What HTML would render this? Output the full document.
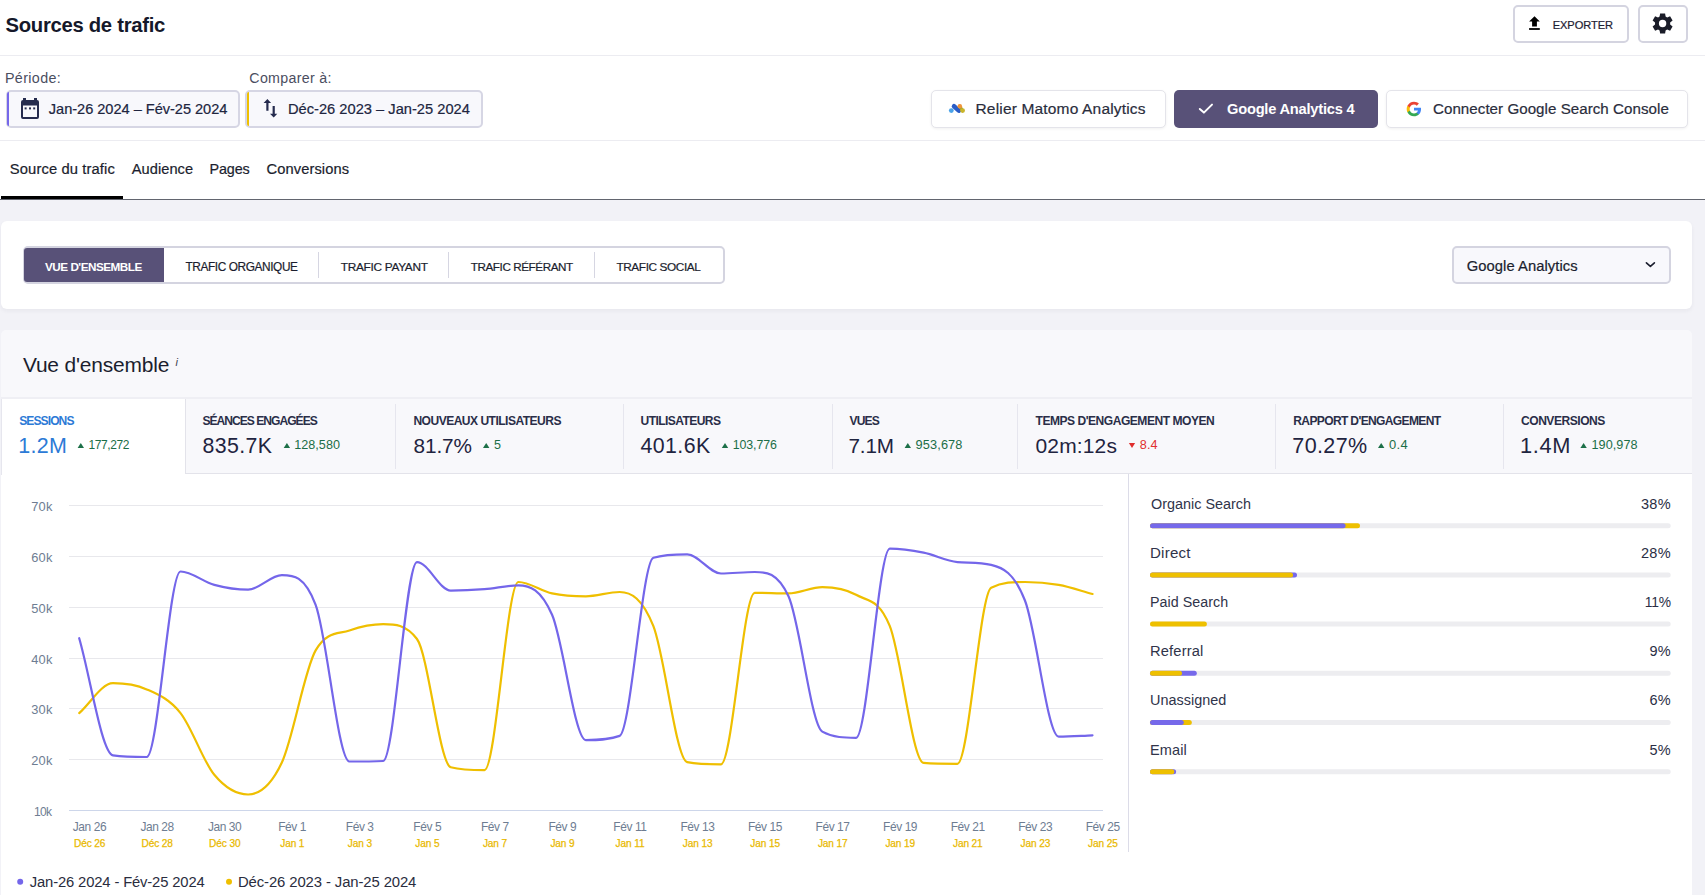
<!DOCTYPE html>
<html><head><meta charset="utf-8"><style>
html,body{margin:0;padding:0;width:1705px;height:895px;overflow:hidden;background:#f2f2f7;font-family:"Liberation Sans", sans-serif;}
.t{position:absolute;white-space:nowrap;line-height:1;}
.xl{width:80px;text-align:center;}
.b{position:absolute;box-sizing:border-box;}
</style></head><body>
<div class="b" style="left:0;top:0;width:1705px;height:199px;background:#fff"></div>
<div class="b" style="left:0;top:55px;width:1705px;height:1px;background:#ececf1"></div>
<div class="b" style="left:0;top:140px;width:1705px;height:1px;background:#ececf1"></div>
<div class="b" style="left:0;top:199px;width:1705px;height:1px;background:#62656f"></div>
<div class="b" style="left:1px;top:196px;width:122px;height:3px;background:#000"></div>

<div class="b" style="left:1513px;top:5px;width:116px;height:38px;border:2px solid #d4d4e0;border-radius:5px;background:#fff"></div>
<div class="b" style="left:1638px;top:5px;width:50px;height:38px;border:2px solid #d4d4e0;border-radius:5px;background:#fff"></div>

<div class="b" style="left:5.5px;top:90px;width:234px;height:37.5px;border:2px solid #d6d6e4;border-radius:5px;background:#f8f8fc"></div>
<div class="b" style="left:7px;top:92px;width:2px;height:34px;background:#7668ea;border-radius:2px 0 0 2px"></div>
<div class="b" style="left:245px;top:90px;width:237.5px;height:37.5px;border:2px solid #d6d6e4;border-radius:5px;background:#f8f8fc"></div>
<div class="b" style="left:247px;top:92px;width:2px;height:34px;background:#eec000;border-radius:2px 0 0 2px"></div>

<div class="b" style="left:930.5px;top:90px;width:235px;height:37.5px;border:1px solid #e4e4ea;border-radius:5px;background:#fff;box-shadow:0 1px 3px rgba(0,0,0,0.06)"></div>
<div class="b" style="left:1174px;top:90px;width:203.5px;height:37.5px;border-radius:5px;background:#585178"></div>
<div class="b" style="left:1386px;top:90px;width:301.5px;height:37.5px;border:1px solid #e4e4ea;border-radius:5px;background:#fff;box-shadow:0 1px 3px rgba(0,0,0,0.06)"></div>

<div class="b" style="left:1px;top:221px;width:1691px;height:88px;border-radius:6px;background:#fff;box-shadow:0 2px 4px rgba(30,30,60,0.05)"></div>
<div class="b" style="left:22.5px;top:246px;width:702px;height:37.5px;border:2px solid #d4d4e0;border-radius:5px;background:#fff"></div>
<div class="b" style="left:24px;top:248px;width:140px;height:34px;border-radius:3px 0 0 3px;background:#585178"></div>
<div class="b" style="left:318px;top:252px;width:1px;height:26px;background:#d6d6e2"></div>
<div class="b" style="left:448px;top:252px;width:1px;height:26px;background:#d6d6e2"></div>
<div class="b" style="left:594px;top:252px;width:1px;height:26px;background:#d6d6e2"></div>
<div class="b" style="left:1451.5px;top:246px;width:219px;height:37.5px;border:2px solid #d4d4e0;border-radius:5px;background:#f8f8fc"></div>

<div class="b" style="left:1px;top:330px;width:1691px;height:600px;border-radius:5px;background:#f8f8fb"></div>
<div class="b" style="left:1px;top:397px;width:1691px;height:2px;background:#efeff4"></div>
<div class="b" style="left:1px;top:473px;width:1691px;height:1px;background:#e3e3ea"></div>
<div class="b" style="left:1px;top:474px;width:1691px;height:430px;background:#fff"></div>
<div class="b" style="left:1px;top:399px;width:184px;height:76px;background:#fff;border-left:1px solid #e6e6ee"></div>
<div class="b" style="left:185px;top:399px;width:1px;height:75px;background:#e3e3ea"></div>
<div class="b" style="left:395px;top:404px;width:1px;height:65px;background:#e6e6ee"></div><div class="b" style="left:623px;top:404px;width:1px;height:65px;background:#e6e6ee"></div><div class="b" style="left:832px;top:404px;width:1px;height:65px;background:#e6e6ee"></div><div class="b" style="left:1017px;top:404px;width:1px;height:65px;background:#e6e6ee"></div><div class="b" style="left:1275px;top:404px;width:1px;height:65px;background:#e6e6ee"></div><div class="b" style="left:1503px;top:404px;width:1px;height:65px;background:#e6e6ee"></div>
<div class="b" style="left:1128px;top:474px;width:1px;height:378px;background:#dcdce8"></div>
<svg class="b" style="left:0;top:0" width="1705" height="895" viewBox="0 0 1705 895">
<line x1="69" y1="505.5" x2="1103" y2="505.5" stroke="#e8e8ec" stroke-width="1.2"/><line x1="69" y1="556.5" x2="1103" y2="556.5" stroke="#e8e8ec" stroke-width="1.2"/><line x1="69" y1="607.5" x2="1103" y2="607.5" stroke="#e8e8ec" stroke-width="1.2"/><line x1="69" y1="658.5" x2="1103" y2="658.5" stroke="#e8e8ec" stroke-width="1.2"/><line x1="69" y1="708.5" x2="1103" y2="708.5" stroke="#e8e8ec" stroke-width="1.2"/><line x1="69" y1="759.5" x2="1103" y2="759.5" stroke="#e8e8ec" stroke-width="1.2"/><line x1="69" y1="810.5" x2="1103" y2="810.5" stroke="#cdd6ea" stroke-width="1.2"/>
<path d="M79.20,713.10C90.46,703.13 101.72,683.20 112.98,683.20C124.24,683.20 135.49,684.42 146.75,689.40C158.01,694.38 169.27,698.87 180.53,713.10C191.79,727.33 203.05,761.23 214.31,774.80C225.57,788.37 236.82,794.50 248.08,794.50C259.34,794.50 270.60,786.52 281.86,762.50C293.12,738.48 304.38,669.92 315.64,650.40C326.90,630.88 338.15,634.37 349.41,630.50C360.67,626.63 371.93,624.20 383.19,624.20C394.45,624.20 405.71,624.20 416.97,639.00C428.23,653.80 439.48,764.30 450.74,767.20C462.00,770.10 473.26,770.10 484.52,770.10C495.78,770.10 507.04,582.00 518.30,582.00C529.56,582.00 540.81,591.02 552.07,593.40C563.33,595.78 574.59,596.30 585.85,596.30C597.11,596.30 608.37,592.00 619.63,592.00C630.89,592.00 642.14,597.85 653.40,626.20C664.66,654.55 675.92,759.90 687.18,762.10C698.44,764.30 709.70,764.30 720.96,764.30C732.22,764.30 743.47,592.80 754.73,592.80C765.99,592.80 777.25,593.40 788.51,593.40C799.77,593.40 811.03,587.10 822.29,587.10C833.55,587.10 844.80,588.28 856.06,594.80C867.32,601.32 878.58,598.18 889.84,626.20C901.10,654.22 912.36,762.00 923.62,762.90C934.88,763.80 946.13,763.80 957.39,763.80C968.65,763.80 979.91,593.40 991.17,587.70C1002.43,582.00 1013.69,582.00 1024.95,582.00C1036.21,582.00 1047.46,582.90 1058.72,584.90C1069.98,586.90 1081.24,590.97 1092.50,594.00" fill="none" stroke="#efbf00" stroke-width="2.2" stroke-linejoin="round" stroke-linecap="round"/>
<path d="M79.20,638.20C90.46,677.23 101.72,753.60 112.98,755.30C124.24,757.00 135.49,757.00 146.75,757.00C158.01,757.00 169.27,571.50 180.53,571.50C191.79,571.50 203.05,581.87 214.31,584.90C225.57,587.93 236.82,589.70 248.08,589.70C259.34,589.70 270.60,575.20 281.86,575.20C293.12,575.20 304.38,575.20 315.64,604.80C326.90,634.40 338.15,761.50 349.41,761.50C360.67,761.50 371.93,761.50 383.19,761.00C394.45,760.50 405.71,562.10 416.97,562.10C428.23,562.10 439.48,590.60 450.74,590.60C462.00,590.60 473.26,590.08 484.52,589.20C495.78,588.32 507.04,585.30 518.30,585.30C529.56,585.30 540.81,589.00 552.07,614.80C563.33,640.60 574.59,740.10 585.85,740.10C597.11,740.10 608.37,740.10 619.63,735.90C630.89,731.70 642.14,561.20 653.40,557.80C664.66,554.40 675.92,554.40 687.18,554.40C698.44,554.40 709.70,573.50 720.96,573.50C732.22,573.50 743.47,572.00 754.73,572.00C765.99,572.00 777.25,572.00 788.51,596.30C799.77,620.60 811.03,725.40 822.29,731.60C833.55,737.80 844.80,737.80 856.06,737.80C867.32,737.80 878.58,548.70 889.84,548.70C901.10,548.70 912.36,550.47 923.62,552.70C934.88,554.93 946.13,561.25 957.39,562.10C968.65,562.95 979.91,562.23 991.17,564.90C1002.43,567.57 1013.69,571.87 1024.95,600.50C1036.21,629.13 1047.46,736.70 1058.72,736.70C1069.98,736.70 1081.24,735.77 1092.50,735.30" fill="none" stroke="#7466ea" stroke-width="2.2" stroke-linejoin="round" stroke-linecap="round"/>
<path d="M77.6,447.9 L84.0,447.9 L80.8,442.9 Z" fill="#1d7048"/><path d="M283.7,447.9 L290.09999999999997,447.9 L286.9,442.9 Z" fill="#1d7048"/><path d="M483,447.9 L489.4,447.9 L486.2,442.9 Z" fill="#1d7048"/><path d="M721.8,447.9 L728.1999999999999,447.9 L725.0,442.9 Z" fill="#1d7048"/><path d="M904.6,447.9 L911.0,447.9 L907.8000000000001,442.9 Z" fill="#1d7048"/><path d="M1128.9,442.9 L1135.1000000000001,442.9 L1132.0,448 Z" fill="#e02d2d"/><path d="M1378,447.9 L1384.4,447.9 L1381.2,442.9 Z" fill="#1d7048"/><path d="M1580.4,447.9 L1586.8000000000002,447.9 L1583.6000000000001,442.9 Z" fill="#1d7048"/>
<rect x="1150" y="523.2" width="520.7" height="5" rx="2.5" fill="#ededf0"/><rect x="1150" y="523.2" width="210" height="5" rx="2.5" fill="#eec000"/><rect x="1150" y="523.2" width="195.5999999999999" height="5" rx="2.5" fill="#7669ea"/><rect x="1150" y="572.4000000000001" width="520.7" height="5" rx="2.5" fill="#ededf0"/><rect x="1150" y="572.4000000000001" width="147" height="5" rx="2.5" fill="#7669ea"/><rect x="1150" y="572.4000000000001" width="143" height="5" rx="2.5" fill="#eec000"/><rect x="1150" y="621.6" width="520.7" height="5" rx="2.5" fill="#ededf0"/><rect x="1150" y="621.6" width="56.90000000000009" height="5" rx="2.5" fill="#eec000"/><rect x="1150" y="670.8000000000001" width="520.7" height="5" rx="2.5" fill="#ededf0"/><rect x="1150" y="670.8000000000001" width="46.799999999999955" height="5" rx="2.5" fill="#7669ea"/><rect x="1150" y="670.8000000000001" width="32" height="5" rx="2.5" fill="#eec000"/><rect x="1150" y="720.0" width="520.7" height="5" rx="2.5" fill="#ededf0"/><rect x="1150" y="720.0" width="41.799999999999955" height="5" rx="2.5" fill="#eec000"/><rect x="1150" y="720.0" width="33.799999999999955" height="5" rx="2.5" fill="#7669ea"/><rect x="1150" y="769.2" width="520.7" height="5" rx="2.5" fill="#ededf0"/><rect x="1150" y="769.2" width="26.09999999999991" height="5" rx="2.5" fill="#7669ea"/><rect x="1150" y="769.2" width="24.299999999999955" height="5" rx="2.5" fill="#eec000"/>
<circle cx="20.2" cy="881.7" r="3" fill="#7466ea"/>
<circle cx="229" cy="881.7" r="3" fill="#efbf00"/>
<!-- calendar icon -->
<g fill="#252b4e">
<rect x="23" y="98" width="3" height="3"/><rect x="34" y="98" width="3" height="3"/>
<path d="M21,102 a2,2 0 0 1 2,-2 h14 a2,2 0 0 1 2,2 v15 a2,2 0 0 1 -2,2 h-14 a2,2 0 0 1 -2,-2 Z M23,105.5 v11.5 h14 v-11.5 Z" fill-rule="evenodd"/>
<rect x="24.6" y="107.4" width="2" height="2"/><rect x="29" y="107.4" width="2" height="2"/><rect x="33.2" y="107.4" width="2" height="2"/>
</g>
<!-- swap arrows -->
<g fill="#252b4e">
<path d="M267.4,99 L271.1,102.9 L268.5,102.9 L268.5,110.8 L266.3,110.8 L266.3,102.9 L263.6,102.9 Z"/>
<path d="M273.7,117.5 L277.3,113.8 L274.8,113.8 L274.8,106 L272.6,106 L272.6,113.8 L270,113.8 Z"/>
</g>
<!-- upload -->
<g fill="#000">
<path d="M1534.5,16.3 L1539.8,21.6 L1536.9,21.6 L1536.9,26.6 L1532.1,26.6 L1532.1,21.6 L1529.1,21.6 Z"/>
<rect x="1529.1" y="28.1" width="10.7" height="1.8"/>
</g>
<!-- gear -->
<g transform="translate(1662.6,23.5)" fill="#1a1c28">
<path fill-rule="evenodd" d="M-3.00,-6.98 L-2.50,-10.10 L2.50,-10.10 L3.00,-6.98 L4.55,-6.09 L7.49,-7.21 L9.99,-2.88 L7.55,-0.89 L7.55,0.89 L9.99,2.88 L7.49,7.21 L4.55,6.09 L3.00,6.98 L2.50,10.10 L-2.50,10.10 L-3.00,6.98 L-4.55,6.09 L-7.49,7.21 L-9.99,2.88 L-7.55,0.89 L-7.55,-0.89 L-9.99,-2.88 L-7.49,-7.21 L-4.55,-6.09 Z M3.7,0 A3.7,3.7 0 1 0 -3.7,0 A3.7,3.7 0 1 0 3.7,0 Z"/>
</g>
<!-- check -->
<path d="M1199.8,109 L1203.9,112.6 L1212,104.6" fill="none" stroke="#fff" stroke-width="2" stroke-linecap="round" stroke-linejoin="round"/>
<!-- chevron -->
<path d="M1646.4,262.8 L1650.4,266.4 L1654.4,262.8" fill="none" stroke="#1b1e2e" stroke-width="1.6" stroke-linecap="round" stroke-linejoin="round"/>
<!-- i -->
<text x="175.5" y="365.8" font-family="Liberation Sans" font-style="italic" font-size="11" fill="#3a3d4e">i</text>
</svg>
<svg class="b" style="left:0;top:0" width="1705" height="895" viewBox="0 0 1705 895">
<path d="M954,106.3 L958.8,110.6" stroke="#2a5cc6" stroke-width="4.6" stroke-linecap="round"/>
<circle cx="951.3" cy="110.6" r="2.4" fill="#4aa3e9"/>
<path d="M959.8,106.2 L962.5,110.6" stroke="#9aa02e" stroke-width="3" stroke-linecap="round"/>
<circle cx="959.8" cy="106.2" r="2.3" fill="#f0953a"/>
<circle cx="962.6" cy="110.6" r="2.4" fill="#c9b42a"/>
</svg>
<svg class="b" style="left:1406px;top:100.8px" width="16" height="16" viewBox="0 0 48 48">
<path fill="#4285F4" d="M45.1 24.5c0-1.6-.1-3.1-.4-4.5H24v8.5h11.8c-.5 2.7-2.1 5-4.4 6.6v5.5h7.1c4.2-3.9 6.6-9.6 6.6-16.1z"/>
<path fill="#34A853" d="M24 46c5.9 0 10.9-2 14.5-5.3l-7.1-5.5c-2 1.3-4.5 2.1-7.4 2.1-5.7 0-10.6-3.9-12.3-9.1H4.4v5.7C8 41.1 15.4 46 24 46z"/>
<path fill="#FBBC05" d="M11.7 28.2c-.4-1.3-.7-2.7-.7-4.2s.3-2.9.7-4.2v-5.7H4.4C2.9 17.1 2 20.4 2 24s.9 6.9 2.4 9.9l7.3-5.7z"/>
<path fill="#EA4335" d="M24 10.7c3.2 0 6.1 1.1 8.4 3.3l6.3-6.3C34.9 4.1 29.9 2 24 2 15.4 2 8 6.9 4.4 14.1l7.3 5.7c1.7-5.2 6.6-9.1 12.3-9.1z"/>
</svg>
<div class="t" style="left:5.5px;top:15.00px;font-size:20.278px;letter-spacing:-0.292px;font-weight:700;color:#15182a">Sources de trafic</div><div class="t" style="left:1552.7px;top:20.01px;font-size:11.099px;letter-spacing:-0.063px;font-weight:400;color:#1d2033;-webkit-text-stroke:0.2px #1d2033">EXPORTER</div><div class="t" style="left:4.9px;top:70.71px;font-size:14.337px;letter-spacing:0.359px;font-weight:400;color:#4b4e5f">Période:</div><div class="t" style="left:249.3px;top:70.71px;font-size:14.224px;letter-spacing:0.313px;font-weight:400;color:#4b4e5f">Comparer à:</div><div class="t" style="left:48.8px;top:102.00px;font-size:14.607px;letter-spacing:-0.029px;font-weight:400;color:#20253f;-webkit-text-stroke:0.2px #20253f">Jan-26 2024 – Fév-25 2024</div><div class="t" style="left:287.9px;top:102.01px;font-size:14.679px;letter-spacing:0.014px;font-weight:400;color:#20253f;-webkit-text-stroke:0.2px #20253f">Déc-26 2023 – Jan-25 2024</div><div class="t" style="left:975.5px;top:101.00px;font-size:15.503px;letter-spacing:0.17px;font-weight:400;color:#2a2d3c;-webkit-text-stroke:0.2px #2a2d3c">Relier Matomo Analytics</div><div class="t" style="left:1227px;top:102.00px;font-size:14.671px;letter-spacing:-0.223px;font-weight:700;color:#ffffff">Google Analytics 4</div><div class="t" style="left:1433px;top:101.01px;font-size:15.146px;letter-spacing:0.041px;font-weight:400;color:#2a2d3c;-webkit-text-stroke:0.2px #2a2d3c">Connecter Google Search Console</div><div class="t" style="left:9.8px;top:162.01px;font-size:14.752px;letter-spacing:0.112px;font-weight:400;color:#1b1e2e;-webkit-text-stroke:0.2px #1b1e2e">Source du trafic</div><div class="t" style="left:131.7px;top:162.01px;font-size:14.626px;letter-spacing:0.072px;font-weight:400;color:#1b1e2e;-webkit-text-stroke:0.2px #1b1e2e">Audience</div><div class="t" style="left:209.5px;top:162.00px;font-size:14.379px;letter-spacing:-0.109px;font-weight:400;color:#1b1e2e;-webkit-text-stroke:0.2px #1b1e2e">Pages</div><div class="t" style="left:266.5px;top:162.01px;font-size:14.685px;letter-spacing:0.099px;font-weight:400;color:#1b1e2e;-webkit-text-stroke:0.2px #1b1e2e">Conversions</div><div class="t" style="left:45px;top:260.60px;font-size:11.721px;letter-spacing:-0.492px;font-weight:700;color:#ffffff">VUE D'ENSEMBLE</div><div class="t" style="left:185.4px;top:261.60px;font-size:11.853px;letter-spacing:-0.39px;font-weight:400;color:#1b1e2e;-webkit-text-stroke:0.2px #1b1e2e">TRAFIC ORGANIQUE</div><div class="t" style="left:340.8px;top:261.60px;font-size:11.848px;letter-spacing:-0.297px;font-weight:400;color:#1b1e2e;-webkit-text-stroke:0.2px #1b1e2e">TRAFIC PAYANT</div><div class="t" style="left:470.8px;top:260.60px;font-size:11.685px;letter-spacing:-0.426px;font-weight:400;color:#1b1e2e;-webkit-text-stroke:0.2px #1b1e2e">TRAFIC RÉFÉRANT</div><div class="t" style="left:616.4px;top:261.60px;font-size:11.816px;letter-spacing:-0.39px;font-weight:400;color:#1b1e2e;-webkit-text-stroke:0.2px #1b1e2e">TRAFIC SOCIAL</div><div class="t" style="left:1466.8px;top:259.00px;font-size:14.768px;letter-spacing:0.059px;font-weight:400;color:#1b1e2e;-webkit-text-stroke:0.2px #1b1e2e">Google Analytics</div><div class="t" style="left:22.9px;top:355.01px;font-size:20.936px;letter-spacing:-0.167px;font-weight:400;color:#1b1e2e">Vue d'ensemble</div><div class="t" style="left:19.2px;top:414.50px;font-size:12.074px;letter-spacing:-0.918px;font-weight:700;color:#2c7ad6">SESSIONS</div><div class="t" style="left:18.2px;top:435.90px;font-size:21.484px;letter-spacing:0.319px;font-weight:400;color:#2c7ad6">1.2M</div><div class="t" style="left:88.5px;top:439.01px;font-size:11.992px;letter-spacing:-0.393px;font-weight:400;color:#1b6e47">177,272</div><div class="t" style="left:202.5px;top:414.50px;font-size:12.074px;letter-spacing:-0.986px;font-weight:700;color:#2a2e48">SÉANCES ENGAGÉES</div><div class="t" style="left:202.5px;top:435.90px;font-size:21.302px;letter-spacing:0.381px;font-weight:400;color:#1f2440">835.7K</div><div class="t" style="left:294.3px;top:439.00px;font-size:12.601px;letter-spacing:0.013px;font-weight:400;color:#1b6e47">128,580</div><div class="t" style="left:413.4px;top:414.50px;font-size:12.074px;letter-spacing:-0.523px;font-weight:700;color:#2a2e48">NOUVEAUX UTILISATEURS</div><div class="t" style="left:413.4px;top:435.91px;font-size:20.761px;letter-spacing:-0.046px;font-weight:400;color:#1f2440">81.7%</div><div class="t" style="left:494px;top:439.00px;font-size:12.57px;letter-spacing:0.0px;font-weight:400;color:#1b6e47">5</div><div class="t" style="left:640.5px;top:414.51px;font-size:12.074px;letter-spacing:-0.577px;font-weight:700;color:#2a2e48">UTILISATEURS</div><div class="t" style="left:640.5px;top:435.91px;font-size:21.348px;letter-spacing:0.426px;font-weight:400;color:#1f2440">401.6K</div><div class="t" style="left:732.8px;top:439.01px;font-size:12.392px;letter-spacing:-0.125px;font-weight:400;color:#1b6e47">103,776</div><div class="t" style="left:849.5px;top:414.50px;font-size:12.074px;letter-spacing:-0.834px;font-weight:700;color:#2a2e48">VUES</div><div class="t" style="left:848.5px;top:435.91px;font-size:20.665px;letter-spacing:-0.138px;font-weight:400;color:#1f2440">7.1M</div><div class="t" style="left:915.6px;top:439.01px;font-size:12.752px;letter-spacing:0.117px;font-weight:400;color:#1b6e47">953,678</div><div class="t" style="left:1035.5px;top:414.51px;font-size:12.074px;letter-spacing:-0.492px;font-weight:700;color:#2a2e48">TEMPS D'ENGAGEMENT MOYEN</div><div class="t" style="left:1035.5px;top:434.91px;font-size:21.01px;letter-spacing:0.143px;font-weight:400;color:#1f2440">02m:12s</div><div class="t" style="left:1139.8px;top:439.01px;font-size:12.655px;letter-spacing:0.079px;font-weight:400;color:#e03030">8.4</div><div class="t" style="left:1293.3px;top:414.51px;font-size:12.074px;letter-spacing:-0.657px;font-weight:700;color:#2a2e48">RAPPORT D'ENGAGEMENT</div><div class="t" style="left:1292.3px;top:435.90px;font-size:21.5px;letter-spacing:0.38px;font-weight:400;color:#1f2440">70.27%</div><div class="t" style="left:1389px;top:439.00px;font-size:12.937px;letter-spacing:0.362px;font-weight:400;color:#1b6e47">0.4</div><div class="t" style="left:1521px;top:414.51px;font-size:12.074px;letter-spacing:-0.48px;font-weight:700;color:#2a2e48">CONVERSIONS</div><div class="t" style="left:1520px;top:434.90px;font-size:21.825px;letter-spacing:0.659px;font-weight:400;color:#1f2440">1.4M</div><div class="t" style="left:1591.5px;top:439.01px;font-size:12.656px;letter-spacing:0.056px;font-weight:400;color:#1b6e47">190,978</div><div class="t" style="left:1151px;top:496.60px;font-size:14.394px;letter-spacing:0.009px;font-weight:400;color:#30344a">Organic Search</div><div class="t" style="left:1640.9px;top:496.61px;font-size:14.533px;letter-spacing:0.327px;font-weight:400;color:#2a2e45">38%</div><div class="t" style="left:1150px;top:545.10px;font-size:15.107px;letter-spacing:0.216px;font-weight:400;color:#30344a">Direct</div><div class="t" style="left:1640.9px;top:546.11px;font-size:14.533px;letter-spacing:0.327px;font-weight:400;color:#2a2e45">28%</div><div class="t" style="left:1150px;top:595.00px;font-size:14.281px;letter-spacing:0.042px;font-weight:400;color:#30344a">Paid Search</div><div class="t" style="left:1644.7px;top:596.01px;font-size:13.833px;letter-spacing:-0.177px;font-weight:400;color:#2a2e45">11%</div><div class="t" style="left:1150px;top:644.30px;font-size:14.694px;letter-spacing:0.161px;font-weight:400;color:#30344a">Referral</div><div class="t" style="left:1649.4px;top:644.31px;font-size:14.5px;letter-spacing:0.236px;font-weight:400;color:#2a2e45">9%</div><div class="t" style="left:1150px;top:693.11px;font-size:14.422px;letter-spacing:0.025px;font-weight:400;color:#30344a">Unassigned</div><div class="t" style="left:1649.4px;top:693.11px;font-size:14.5px;letter-spacing:0.236px;font-weight:400;color:#2a2e45">6%</div><div class="t" style="left:1150px;top:743.10px;font-size:14.54px;letter-spacing:0.107px;font-weight:400;color:#30344a">Email</div><div class="t" style="left:1649.4px;top:743.11px;font-size:14.5px;letter-spacing:0.236px;font-weight:400;color:#2a2e45">5%</div><div class="t" style="left:31.3px;top:501.01px;font-size:12.855px;letter-spacing:0.157px;font-weight:400;color:#6e7d92">70k</div><div class="t" style="left:31.3px;top:552.01px;font-size:12.855px;letter-spacing:0.157px;font-weight:400;color:#6e7d92">60k</div><div class="t" style="left:31.3px;top:603.01px;font-size:12.855px;letter-spacing:0.157px;font-weight:400;color:#6e7d92">50k</div><div class="t" style="left:31.3px;top:654.01px;font-size:12.855px;letter-spacing:0.157px;font-weight:400;color:#6e7d92">40k</div><div class="t" style="left:31.3px;top:704.01px;font-size:12.855px;letter-spacing:0.157px;font-weight:400;color:#6e7d92">30k</div><div class="t" style="left:31.3px;top:755.01px;font-size:12.855px;letter-spacing:0.157px;font-weight:400;color:#6e7d92">20k</div><div class="t" style="left:34px;top:806.01px;font-size:12.025px;letter-spacing:-0.733px;font-weight:400;color:#6e7d92">10k</div><div class="t" style="left:29.8px;top:875.01px;font-size:14.79px;letter-spacing:-0.142px;font-weight:400;color:#2a2d3e">Jan-26 2024 - Fév-25 2024</div><div class="t" style="left:238px;top:875.00px;font-size:14.872px;letter-spacing:-0.106px;font-weight:400;color:#2a2d3e">Déc-26 2023 - Jan-25 2024</div>
<div class="t xl" style="left:49.7px;top:822.00px;font-size:11.956px;letter-spacing:-0.421px;text-indent:-0.421px;color:#6e7d92">Jan 26</div><div class="t xl" style="left:49.7px;top:838.81px;font-size:10.149px;letter-spacing:-0.13px;text-indent:-0.13px;font-weight:400;-webkit-text-stroke:0.25px #e9b900;color:#e9b900">Déc 26</div><div class="t xl" style="left:117.25px;top:822.00px;font-size:11.956px;letter-spacing:-0.421px;text-indent:-0.421px;color:#6e7d92">Jan 28</div><div class="t xl" style="left:117.25px;top:838.81px;font-size:10.149px;letter-spacing:-0.13px;text-indent:-0.13px;font-weight:400;-webkit-text-stroke:0.25px #e9b900;color:#e9b900">Déc 28</div><div class="t xl" style="left:184.8px;top:822.00px;font-size:11.956px;letter-spacing:-0.421px;text-indent:-0.421px;color:#6e7d92">Jan 30</div><div class="t xl" style="left:184.8px;top:838.81px;font-size:10.149px;letter-spacing:-0.13px;text-indent:-0.13px;font-weight:400;-webkit-text-stroke:0.25px #e9b900;color:#e9b900">Déc 30</div><div class="t xl" style="left:252.34999999999997px;top:822.00px;font-size:11.956px;letter-spacing:-0.421px;text-indent:-0.421px;color:#6e7d92">Fév 1</div><div class="t xl" style="left:252.34999999999997px;top:838.81px;font-size:10.149px;letter-spacing:-0.13px;text-indent:-0.13px;font-weight:400;-webkit-text-stroke:0.25px #e9b900;color:#e9b900">Jan 1</div><div class="t xl" style="left:319.9px;top:822.00px;font-size:11.956px;letter-spacing:-0.421px;text-indent:-0.421px;color:#6e7d92">Fév 3</div><div class="t xl" style="left:319.9px;top:838.81px;font-size:10.149px;letter-spacing:-0.13px;text-indent:-0.13px;font-weight:400;-webkit-text-stroke:0.25px #e9b900;color:#e9b900">Jan 3</div><div class="t xl" style="left:387.45px;top:822.00px;font-size:11.956px;letter-spacing:-0.421px;text-indent:-0.421px;color:#6e7d92">Fév 5</div><div class="t xl" style="left:387.45px;top:838.81px;font-size:10.149px;letter-spacing:-0.13px;text-indent:-0.13px;font-weight:400;-webkit-text-stroke:0.25px #e9b900;color:#e9b900">Jan 5</div><div class="t xl" style="left:454.99999999999994px;top:822.00px;font-size:11.956px;letter-spacing:-0.421px;text-indent:-0.421px;color:#6e7d92">Fév 7</div><div class="t xl" style="left:454.99999999999994px;top:838.81px;font-size:10.149px;letter-spacing:-0.13px;text-indent:-0.13px;font-weight:400;-webkit-text-stroke:0.25px #e9b900;color:#e9b900">Jan 7</div><div class="t xl" style="left:522.55px;top:822.00px;font-size:11.956px;letter-spacing:-0.421px;text-indent:-0.421px;color:#6e7d92">Fév 9</div><div class="t xl" style="left:522.55px;top:838.81px;font-size:10.149px;letter-spacing:-0.13px;text-indent:-0.13px;font-weight:400;-webkit-text-stroke:0.25px #e9b900;color:#e9b900">Jan 9</div><div class="t xl" style="left:590.1px;top:822.00px;font-size:11.956px;letter-spacing:-0.421px;text-indent:-0.421px;color:#6e7d92">Fév 11</div><div class="t xl" style="left:590.1px;top:838.81px;font-size:10.149px;letter-spacing:-0.13px;text-indent:-0.13px;font-weight:400;-webkit-text-stroke:0.25px #e9b900;color:#e9b900">Jan 11</div><div class="t xl" style="left:657.65px;top:822.00px;font-size:11.956px;letter-spacing:-0.421px;text-indent:-0.421px;color:#6e7d92">Fév 13</div><div class="t xl" style="left:657.65px;top:838.81px;font-size:10.149px;letter-spacing:-0.13px;text-indent:-0.13px;font-weight:400;-webkit-text-stroke:0.25px #e9b900;color:#e9b900">Jan 13</div><div class="t xl" style="left:725.2px;top:822.00px;font-size:11.956px;letter-spacing:-0.421px;text-indent:-0.421px;color:#6e7d92">Fév 15</div><div class="t xl" style="left:725.2px;top:838.81px;font-size:10.149px;letter-spacing:-0.13px;text-indent:-0.13px;font-weight:400;-webkit-text-stroke:0.25px #e9b900;color:#e9b900">Jan 15</div><div class="t xl" style="left:792.75px;top:822.00px;font-size:11.956px;letter-spacing:-0.421px;text-indent:-0.421px;color:#6e7d92">Fév 17</div><div class="t xl" style="left:792.75px;top:838.81px;font-size:10.149px;letter-spacing:-0.13px;text-indent:-0.13px;font-weight:400;-webkit-text-stroke:0.25px #e9b900;color:#e9b900">Jan 17</div><div class="t xl" style="left:860.3px;top:822.00px;font-size:11.956px;letter-spacing:-0.421px;text-indent:-0.421px;color:#6e7d92">Fév 19</div><div class="t xl" style="left:860.3px;top:838.81px;font-size:10.149px;letter-spacing:-0.13px;text-indent:-0.13px;font-weight:400;-webkit-text-stroke:0.25px #e9b900;color:#e9b900">Jan 19</div><div class="t xl" style="left:927.85px;top:822.00px;font-size:11.956px;letter-spacing:-0.421px;text-indent:-0.421px;color:#6e7d92">Fév 21</div><div class="t xl" style="left:927.85px;top:838.81px;font-size:10.149px;letter-spacing:-0.13px;text-indent:-0.13px;font-weight:400;-webkit-text-stroke:0.25px #e9b900;color:#e9b900">Jan 21</div><div class="t xl" style="left:995.3999999999999px;top:822.00px;font-size:11.956px;letter-spacing:-0.421px;text-indent:-0.421px;color:#6e7d92">Fév 23</div><div class="t xl" style="left:995.3999999999999px;top:838.81px;font-size:10.149px;letter-spacing:-0.13px;text-indent:-0.13px;font-weight:400;-webkit-text-stroke:0.25px #e9b900;color:#e9b900">Jan 23</div><div class="t xl" style="left:1062.95px;top:822.00px;font-size:11.956px;letter-spacing:-0.421px;text-indent:-0.421px;color:#6e7d92">Fév 25</div><div class="t xl" style="left:1062.95px;top:838.81px;font-size:10.149px;letter-spacing:-0.13px;text-indent:-0.13px;font-weight:400;-webkit-text-stroke:0.25px #e9b900;color:#e9b900">Jan 25</div>
</body></html>
